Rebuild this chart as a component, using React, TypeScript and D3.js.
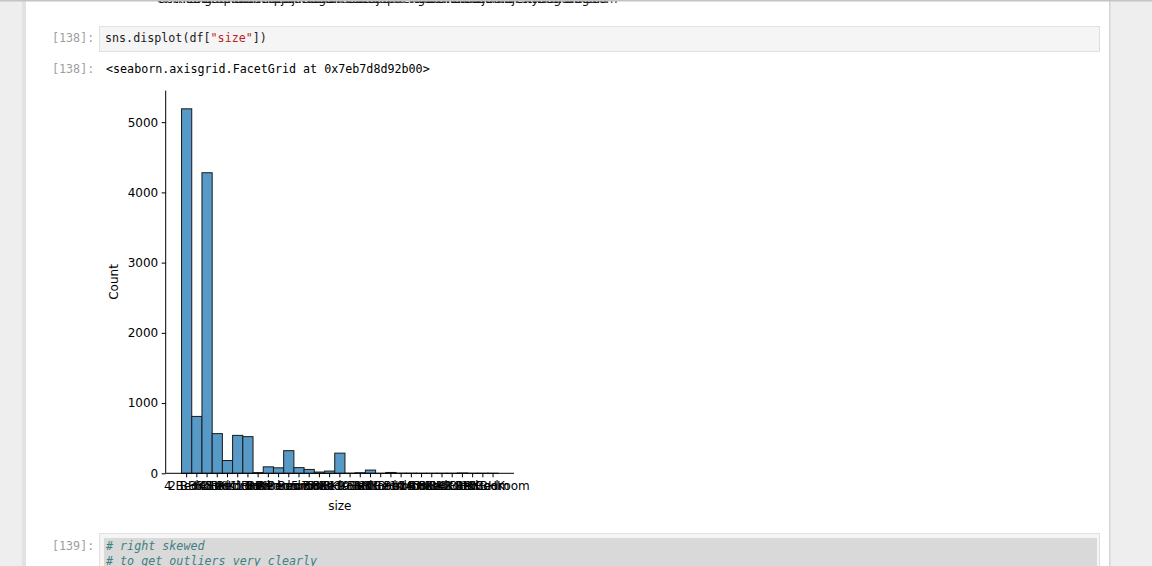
import React, { useEffect, useRef } from 'react';
import * as d3 from 'd3';

// value counts of df["size"], in order of first appearance
const sizeCategories = [
  '2 BHK', '4 Bedroom', '3 BHK', '4 BHK', '6 Bedroom', '3 Bedroom', '1 BHK', '1 RK',
  '1 Bedroom', '8 Bedroom', '2 Bedroom', '7 Bedroom', '5 BHK', '7 BHK', '6 BHK',
  '5 Bedroom', '11 BHK', '9 BHK', '9 Bedroom', '27 BHK', '10 Bedroom', '11 Bedroom',
  '10 BHK', '19 BHK', '16 BHK', '43 Bedroom', '14 BHK', '8 BHK', '12 Bedroom',
  '13 BHK', '18 Bedroom',
];
const sizeCounts = [
  5190, 810, 4280, 565, 182, 540, 522, 10, 92, 78, 322, 81, 55, 18, 32,
  287, 2, 8, 46, 1, 12, 2, 2, 1, 1, 1, 1, 5, 1, 1, 1,
];
const countTicks = [0, 1000, 2000, 3000, 4000, 5000];

// tail of the previous cell's output (overlapping location labels)
const prevLabels = [
  'Kothanur', 'Chikka Tirupathi', 'Uttarahalli', 'Lingadheeranahalli',
  'Whitefield', 'Old Airport Road', 'Rajaji Nagar', 'Marathahalli', 'Gandhi Bazar',
  'Whitefield', 'Hebbal', 'Sarjapur Road', 'Kengeri', 'Yelahanka', 'Bellandur', 'Thanisandra',
  'Electronic City', 'Hennur Road', 'Raja Rajeshwari Nagar', 'KR Puram', 'Begur Road', 'abc.com',
];

const mono = "'DejaVu Sans Mono', monospace";
const sans = "'DejaVu Sans', sans-serif";

const Chart: React.FC = () => {
  const gRef = useRef<SVGGElement | null>(null);

  useEffect(() => {
    const g = d3.select(gRef.current);
    g.selectAll('*').remove();

    const left = 165.7;
    const right = 514;
    const bottom = 473.3;
    const top = 90.6;
    const n = sizeCategories.length;
    const margin = n * 0.05;

    // matplotlib style categorical axis with 5% margins
    const xLin = d3.scaleLinear().domain([-0.5 - margin, n - 0.5 + margin]).range([left, right]);
    const x = d3.scaleBand<string>()
      .domain(sizeCategories)
      .range([xLin(-0.5), xLin(n - 0.5)])
      .padding(0);

    const yMax = (d3.max(sizeCounts) || 1) * 1.05;
    const y = d3.scaleLinear().domain([0, yMax]).range([bottom, top]);

    // bars
    g.append('g')
      .selectAll('rect')
      .data(sizeCategories.map((c, i) => ({ c, v: sizeCounts[i] })))
      .enter()
      .append('rect')
      .attr('x', d => x(d.c)!)
      .attr('y', d => y(d.v))
      .attr('width', x.bandwidth())
      .attr('height', d => bottom - y(d.v))
      .attr('fill', 'rgb(87,153,199)')
      .attr('stroke', '#1a1a1a')
      .attr('stroke-width', 1);

    // y axis
    const yAxis = g.append('g')
      .attr('transform', `translate(${left},0)`)
      .call(d3.axisLeft(y).tickValues(countTicks).tickFormat(d3.format('d')).tickSize(4).tickPadding(3.5).tickSizeOuter(0));
    yAxis.select('.domain').remove();
    yAxis.selectAll('text').attr('font-family', sans).attr('font-size', 12).attr('fill', '#000');
    yAxis.selectAll('line').attr('stroke', '#000');

    // x axis
    const xAxis = g.append('g')
      .attr('transform', `translate(0,${bottom})`)
      .call(d3.axisBottom(x).tickSize(4).tickPadding(4.5).tickSizeOuter(0));
    xAxis.select('.domain').remove();
    xAxis.selectAll('text').attr('font-family', sans).attr('font-size', 12).attr('fill', '#000');
    xAxis.selectAll('line').attr('stroke', '#000');

    // spines (left and bottom only, seaborn despine)
    g.append('line')
      .attr('x1', left).attr('x2', left).attr('y1', top).attr('y2', bottom)
      .attr('stroke', '#000').attr('stroke-width', 1);
    g.append('line')
      .attr('x1', left).attr('x2', right).attr('y1', bottom).attr('y2', bottom)
      .attr('stroke', '#000').attr('stroke-width', 1);

    // axis labels
    g.append('text')
      .attr('x', (left + right) / 2).attr('y', 509.5)
      .attr('text-anchor', 'middle')
      .attr('font-family', sans).attr('font-size', 12)
      .text('size');
    g.append('text')
      .attr('transform', `translate(117.5,${(top + bottom) / 2}) rotate(-90)`)
      .attr('text-anchor', 'middle')
      .attr('font-family', sans).attr('font-size', 12)
      .text('Count');
  }, []);

  return <g ref={gRef}></g>;
};

const PrevTail: React.FC = () => {
  const x = d3.scalePoint<number>().domain(d3.range(prevLabels.length)).range([186, 592]);
  return (
    <g>
      {prevLabels.map((t, i) => (
        <text key={i} x={x(i)} y={3} textAnchor="middle" fontFamily={sans} fontSize={12} fill="#111">
          {t}
        </text>
      ))}
    </g>
  );
};

const App: React.FC = () => {
  return (
    <svg
      width={1152}
      height={566}
      style={{ position: 'absolute', left: 0, top: 0, display: 'block' }}
    >
      {/* page background */}
      <rect x={0} y={0} width={1152} height={566} fill="#eeeeee" />
      <rect x={22} y={0} width={4} height={566} fill="#e2e2e2" />
      <rect x={26} y={0} width={1083} height={566} fill="#ffffff" />
      <rect x={1109} y={0} width={1.5} height={566} fill="#d6d6d6" />

      <PrevTail />
      <rect x={0} y={0} width={1152} height={1.5} fill="#c4c4c4" />

      {/* cell 138 input */}
      <text x={52} y={42} fontFamily={mono} fontSize={11.7} fill="#9e9e9e">[138]:</text>
      <rect x={99.5} y={26.5} width={1000} height={25} fill="#f5f5f5" stroke="#e0e0e0" />
      <text x={105} y={42} fontFamily={mono} fontSize={11.7} fill="#202020">
        sns.displot(df[<tspan fill="#ba2121">"size"</tspan>])
      </text>

      {/* cell 138 output */}
      <text x={52} y={73} fontFamily={mono} fontSize={11.7} fill="#9e9e9e">[138]:</text>
      <text x={106} y={73} fontFamily={mono} fontSize={11.7} fill="#000">
        {'<seaborn.axisgrid.FacetGrid at 0x7eb7d8d92b00>'}
      </text>

      <Chart />

      {/* cell 139 */}
      <text x={52} y={550} fontFamily={mono} fontSize={11.7} fill="#9e9e9e">[139]:</text>
      <rect x={99.5} y={533.5} width={1000} height={40} fill="#f5f5f5" stroke="#e0e0e0" />
      <rect x={104} y={538} width={993} height={30} fill="#d9d9d9" />
      <text x={106} y={550} fontFamily={mono} fontSize={11.7} fontStyle="italic" fill="#408080">
        # right skewed
      </text>
      <text x={106} y={565} fontFamily={mono} fontSize={11.7} fontStyle="italic" fill="#408080">
        # to get outliers very clearly
      </text>
    </svg>
  );
};

export default App;
